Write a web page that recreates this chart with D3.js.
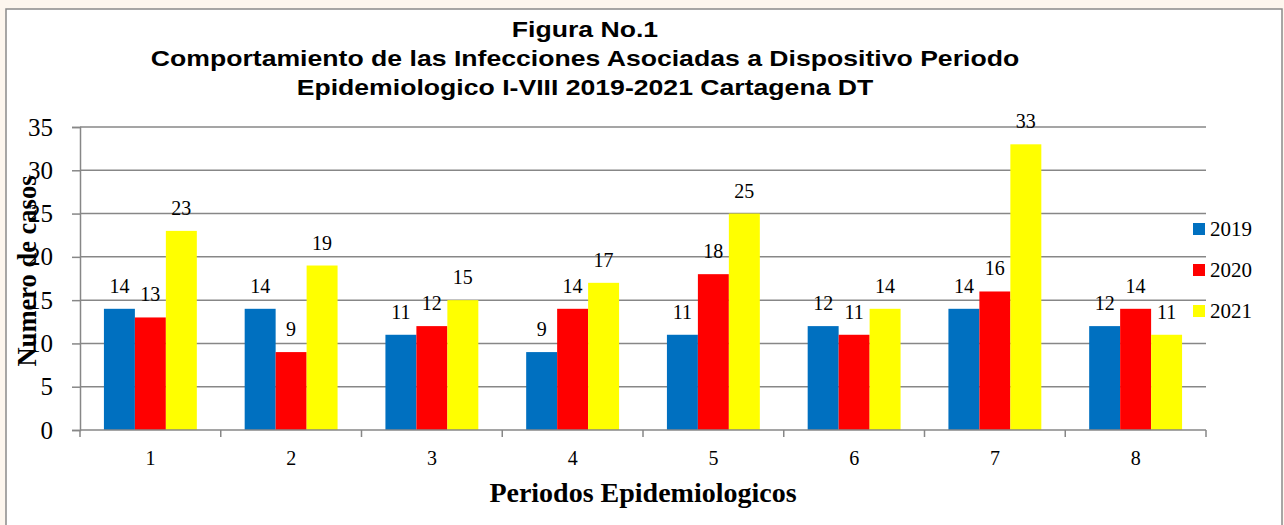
<!DOCTYPE html>
<html><head><meta charset="utf-8">
<script src="https://cdn.jsdelivr.net/npm/d3@7"></script>
<style>
html,body{margin:0;padding:0;background:#fdf6ee;}
svg{display:block;}
</style></head>
<body>
<svg id="chart" width="1284" height="525"></svg>
<script>
const categories = ["1","2","3","4","5","6","7","8"];
const seriesNames = ["2019","2020","2021"];
const values2019 = [14,14,11,9,11,12,14,12];
const values2020 = [13,9,12,14,18,11,16,14];
const values2021 = [23,19,15,17,25,14,33,11];
const yTicks = [0,5,10,15,20,25,30,35];
const colors = ["#0070C0","#FF0000","#FFFF00"];
const titleLines = ["Figura No.1",
  "Comportamiento de las Infecciones Asociadas a Dispositivo Periodo",
  "Epidemiologico I-VIII 2019-2021 Cartagena DT"];

(function(){
const seriesValues = [values2019, values2020, values2021];
const svg = d3.select("#chart");
const serif = "'Liberation Serif', 'Times New Roman', serif";
const sans = "'Liberation Sans', Arial, sans-serif";
const grid = "#878787";

// frame
svg.append("rect").attr("x",6).attr("y",9).attr("width",1276).attr("height",530)
  .attr("fill","#fff").attr("stroke","#8a8a8a").attr("stroke-width",1.5);

const pLeft=80, pRight=1206, pTop=127, pBottom=430;
const y = d3.scaleLinear().domain([0,35]).range([pBottom,pTop]);
const x0 = d3.scaleBand().domain(categories).range([pLeft,pRight]).paddingInner(0.34).paddingOuter(0.17);
const x1 = d3.scaleBand().domain(seriesNames).range([0,x0.bandwidth()]);

// gridlines
svg.append("g").selectAll("line").data(yTicks.filter(d=>d>0)).join("line")
  .attr("x1",pLeft).attr("x2",pRight).attr("y1",d=>y(d)).attr("y2",d=>y(d))
  .attr("stroke",grid).attr("stroke-width",1.5);

// y axis
const yAxis = svg.append("g").attr("transform",`translate(${pLeft},0)`)
  .call(d3.axisLeft(y).tickValues(yTicks).tickSize(8).tickPadding(19));
yAxis.select(".domain").attr("stroke",grid).attr("stroke-width",1.5);
yAxis.selectAll(".tick line").attr("stroke",grid).attr("stroke-width",1.5);
yAxis.selectAll(".tick text").attr("font-family",serif).attr("font-size",25).attr("fill","#000");

// bars
const rows = (c,i)=>seriesNames.map((s,j)=>({s, v:seriesValues[j][i], j}));
const groups = svg.append("g").selectAll("g").data(categories).join("g")
  .attr("transform",d=>`translate(${x0(d)},0)`);
groups.selectAll("rect").data(rows).join("rect")
  .attr("x",d=>x1(d.s)).attr("width",x1.bandwidth())
  .attr("y",d=>y(d.v)).attr("height",d=>y(0)-y(d.v))
  .attr("fill",d=>colors[d.j]);
groups.selectAll("text").data(rows).join("text")
  .attr("x",d=>x1(d.s)+x1.bandwidth()/2).attr("y",d=>y(d.v)-16)
  .attr("text-anchor","middle").attr("font-family",serif).attr("font-size",20).attr("fill","#000")
  .text(d=>d.v);

// x axis
svg.append("line").attr("x1",pLeft).attr("x2",pRight).attr("y1",pBottom).attr("y2",pBottom)
  .attr("stroke",grid).attr("stroke-width",1.5);
const bounds = categories.map(c=>x0(c)-x0.step()*x0.paddingInner()/2).concat([pRight]);
svg.append("g").selectAll("line").data(bounds).join("line")
  .attr("x1",d=>d).attr("x2",d=>d).attr("y1",pBottom).attr("y2",pBottom+7)
  .attr("stroke",grid).attr("stroke-width",1.5);
svg.append("g").selectAll("text").data(categories).join("text")
  .attr("x",d=>x0(d)+x0.bandwidth()/2).attr("y",465)
  .attr("text-anchor","middle").attr("font-family",serif).attr("font-size",20).attr("fill","#000")
  .text(d=>d);

// axis titles
svg.append("text").attr("x",643).attr("y",502).attr("text-anchor","middle")
  .attr("font-family",serif).attr("font-weight","bold").attr("font-size",28).attr("fill","#000")
  .text("Periodos Epidemiologicos");
svg.append("text").attr("transform","translate(36,271) rotate(-90)").attr("text-anchor","middle")
  .attr("font-family",serif).attr("font-weight","bold").attr("font-size",26.5).attr("fill","#000")
  .text("Numero de casos");

// title
const titleBase = [37,66,95];
svg.append("g").selectAll("text").data(titleLines).join("text")
  .attr("transform",(d,i)=>`translate(585,${titleBase[i]}) scale(1.21,1)`).attr("text-anchor","middle")
  .attr("font-family",sans).attr("font-weight","bold").attr("font-size",22).attr("fill","#000")
  .text(d=>d);

// legend
const leg = svg.append("g").selectAll("g").data(seriesNames).join("g")
  .attr("transform",(d,i)=>`translate(1193,${223+i*41})`);
leg.append("rect").attr("width",12).attr("height",12).attr("fill",(d,i)=>colors[i]);
leg.append("text").attr("x",17).attr("y",13).attr("font-family",serif).attr("font-size",21)
  .attr("fill","#000").text(d=>d);
})();
</script>
</body></html>
